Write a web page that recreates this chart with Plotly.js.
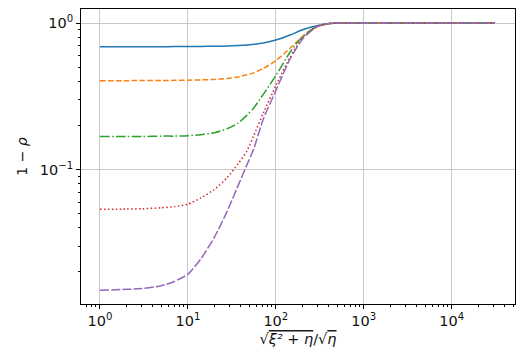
<!DOCTYPE html>
<html>
<head>
<meta charset="utf-8">
<script src="https://cdn.plot.ly/plotly-3.0.1.min.js"></script>
<style>
  html, body { margin: 0; padding: 0; background: #fff; }
  #chart { width: 527px; height: 359px; }
</style>
</head>
<body>
<div id="chart"></div>
<script>
// x = sqrt(xi^2 + eta)/sqrt(eta)
const xs = [1, 2, 3, 5, 7, 10, 14, 20, 28, 37, 47, 56, 72, 100, 145, 205, 293, 413, 600, 1000, 3000, 10000, 31000];

const blue   = [0.689, 0.689, 0.689, 0.689, 0.690, 0.691, 0.692, 0.694, 0.696, 0.701, 0.708, 0.716, 0.731, 0.765, 0.828, 0.902, 0.958, 0.994, 1.0, 1.0, 1.0, 1.0, 1.0];
const orange = [0.404, 0.404, 0.405, 0.405, 0.406, 0.407, 0.409, 0.412, 0.418, 0.428, 0.443, 0.457, 0.489, 0.553, 0.672, 0.815, 0.943, 0.994, 1.0, 1.0, 1.0, 1.0, 1.0];
const green  = [0.168, 0.168, 0.168, 0.169, 0.169, 0.170, 0.173, 0.178, 0.190, 0.207, 0.235, 0.263, 0.326, 0.437, 0.631, 0.818, 0.948, 0.995, 1.0, 1.0, 1.0, 1.0, 1.0];
const red    = [0.0535, 0.0537, 0.054, 0.0548, 0.0558, 0.058, 0.064, 0.073, 0.088, 0.109, 0.134, 0.170, 0.243, 0.373, 0.583, 0.800, 0.948, 0.995, 1.0, 1.0, 1.0, 1.0, 1.0];
const purple = [0.0150, 0.0152, 0.0154, 0.0161, 0.0172, 0.0193, 0.0245, 0.0345, 0.052, 0.077, 0.108, 0.138, 0.221, 0.345, 0.568, 0.787, 0.942, 0.994, 1.0, 1.0, 1.0, 1.0, 1.0];

const xTickVals = [1, 10, 100, 1000, 10000];
const xTickText = ['10<sup>0</sup>', '10<sup>1</sup>', '10<sup>2</sup>', '10<sup>3</sup>', '10<sup>4</sup>'];
const yTickVals = [0.1, 1];
const yTickText = ['10<sup>\u22121</sup>', '10<sup>0</sup>'];

// minor ticks, every integer multiple inside each decade
let xMinor = [];
for (let d = -1; d <= 4; d++) {
  for (let m = 2; m <= 9; m++) xMinor.push(m * Math.pow(10, d));
}
let yMinor = [];
for (let d = -2; d <= 0; d++) {
  for (let m = 2; m <= 9; m++) yMinor.push(m * Math.pow(10, d));
}

const series = [
  { y: blue,   color: '#1f77b4', dash: 'solid' },
  { y: orange, color: '#ff7f0e', dash: '5.5px,2.4px' },
  { y: green,  color: '#2ca02c', dash: '9.6px,2.4px,1.5px,2.4px' },
  { y: red,    color: '#d62728', dash: '1.5px,2.4px' },
  { y: purple, color: '#9467bd', dash: '9px,2.2px' }
];

let traces = series.map(s => ({
  x: xs,
  y: s.y,
  type: 'scatter',
  mode: 'lines',
  line: { color: s.color, width: 1.5, dash: s.dash, shape: 'spline', smoothing: 0.6 },
  showlegend: false,
  hoverinfo: 'skip'
}));

let axisCommon = {
  type: 'log',
  showgrid: true,
  gridcolor: '#c8c8c8',
  gridwidth: 1,
  zeroline: false,
  showline: true,
  linecolor: '#000',
  linewidth: 1,
  mirror: true,
  ticks: 'outside',
  ticklen: 4,
  tickwidth: 1,
  tickcolor: '#000',
  tickmode: 'array',
  tickfont: { family: 'DejaVu Sans', size: 14.5, color: '#111' }
};

let layout = {
  width: 527,
  height: 359,
  margin: { l: 81, r: 12, t: 9, b: 55 },
  paper_bgcolor: '#fff',
  plot_bgcolor: '#fff',
  font: { family: 'DejaVu Sans', color: '#111' },
  xaxis: Object.assign({}, axisCommon, {
    range: [-0.216, 4.72],
    tickvals: xTickVals,
    ticktext: xTickText,
    minor: { tickmode: 'array', tickvals: xMinor, ticks: 'outside', ticklen: 2, tickcolor: '#000', showgrid: false },
    title: {
      text: '\u221A<span style="text-decoration:overline"><i>\u03BE\u00B2 + \u03B7</i></span>/\u221A<span style="text-decoration:overline"><i>\u03B7</i></span>',
      font: { family: 'DejaVu Sans', size: 14.5, color: '#111' },
      standoff: 5
    }
  }),
  yaxis: Object.assign({}, axisCommon, {
    range: [-1.918, 0.0956],
    tickvals: yTickVals,
    ticktext: yTickText,
    minor: { tickmode: 'array', tickvals: yMinor, ticks: 'outside', ticklen: 2, tickcolor: '#000', showgrid: false },
    title: {
      text: '1 \u2212 <i>\u03C1</i>',
      font: { family: 'DejaVu Sans', size: 14, color: '#111' },
      standoff: 8
    }
  })
};

Plotly.newPlot('chart', traces, layout, { displayModeBar: false, staticPlot: true });
</script>
</body>
</html>
